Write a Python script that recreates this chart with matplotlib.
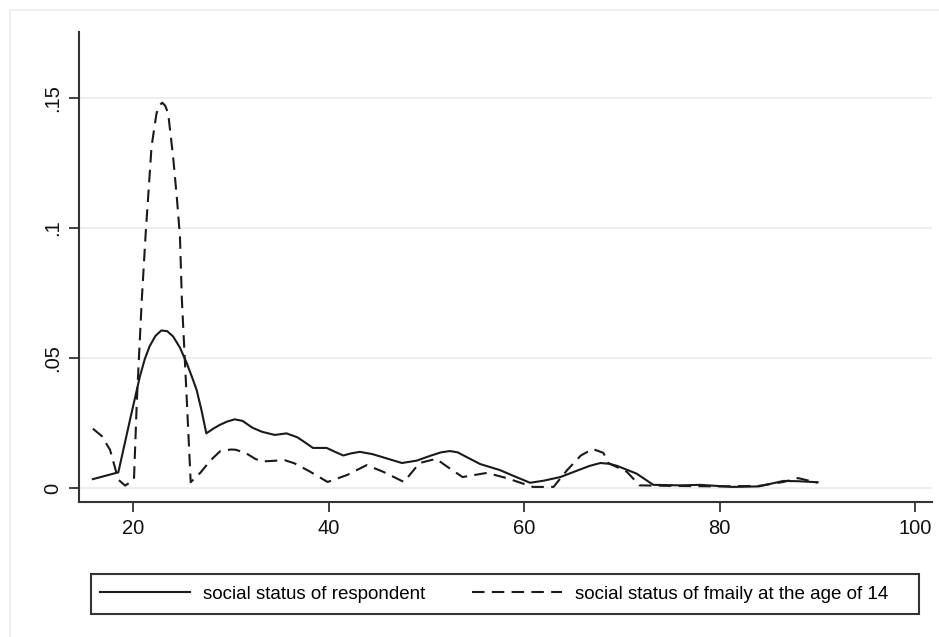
import matplotlib.pyplot as plt
from matplotlib.patches import Rectangle

# respondent's social status (solid line)
resp_x = [15.9, 18.5, 19.7, 20.7, 21.2, 21.7, 22.3, 22.9, 23.5, 24.1, 24.8, 25.5, 26.0,
          26.5, 27.0, 27.5, 28.2, 28.9, 29.6, 30.4, 31.2, 32.2, 33.2, 34.5, 35.7,
          36.8, 37.6, 38.4, 39.8, 40.6, 41.5, 42.3, 43.2, 44.5, 46.0, 47.5, 49.0,
          50.5, 51.5, 52.4, 53.2, 53.8, 55.5, 57.5, 59.0, 60.6, 62.0, 63.7, 65.5,
          66.7, 67.8, 68.7, 69.5, 71.5, 73.2, 76.0, 78.0, 81.3, 84.0, 86.5, 88.0, 90.0]
resp_y = [0.0034, 0.0060, 0.0263, 0.0428, 0.0495, 0.0545, 0.0585, 0.0606, 0.0603, 0.0583,
          0.0540, 0.0480, 0.0430, 0.0378, 0.0300, 0.0210, 0.0228, 0.0243, 0.0255, 0.0264,
          0.0258, 0.0232, 0.0216, 0.0204, 0.0210, 0.0195, 0.0175, 0.0154, 0.0154, 0.0140,
          0.0125, 0.0133, 0.0139, 0.0130, 0.0113, 0.0096, 0.0105, 0.0125, 0.0137, 0.0142,
          0.0137, 0.0125, 0.0092, 0.0069, 0.0045, 0.0020, 0.0028, 0.0042, 0.0068, 0.0085,
          0.0096, 0.0093, 0.0085, 0.0055, 0.0012, 0.0010, 0.0012, 0.0004, 0.0006, 0.0027,
          0.0026, 0.0022]

# family's social status at age 14 (dashed line)
fam_x = [15.9, 16.8, 17.65, 18.5, 19.2, 20.1, 20.4, 20.9, 21.3, 21.6, 21.9, 22.4, 22.7,
         23.0, 23.3, 23.6, 24.1, 24.5, 24.8, 25.0, 25.5, 25.9, 26.9, 27.9, 28.9, 30.0,
         30.5, 31.5, 32.5, 33.2, 34.2, 35.5, 36.5, 38.0, 39.9, 41.9, 43.9, 45.6,
         47.7, 49.3, 51.0, 52.2, 53.7, 56.2, 58.2, 60.9, 63.0, 64.4, 65.8, 67.0,
         68.1, 68.6, 70.5, 71.8, 75.0, 80.0, 84.0, 86.5, 88.0, 90.0]
fam_y = [0.0228, 0.0200, 0.0147, 0.0032, 0.0009, 0.0032, 0.0340, 0.0724, 0.0980, 0.1147,
         0.1314, 0.1440, 0.1472, 0.1482, 0.1470, 0.1440, 0.1275, 0.1110, 0.0968, 0.0724,
         0.0340, 0.0022, 0.0059, 0.0105, 0.0141, 0.0148, 0.0147, 0.0135, 0.0112, 0.0102,
         0.0104, 0.0107, 0.0095, 0.0065, 0.0023, 0.0050, 0.0088, 0.0062, 0.0023, 0.0096,
         0.0112, 0.0080, 0.0042, 0.0058, 0.0038, 0.0004, 0.0004, 0.0069, 0.0125, 0.0150,
         0.0135, 0.0096, 0.0062, 0.0010, 0.0008, 0.0006, 0.0008, 0.0023, 0.0038, 0.0020]

yticks = [0, 0.05, 0.1, 0.15]
ytick_labels = ['0', '.05', '.1', '.15']
xticks = [20, 40, 60, 80, 100]

plt.rcParams['font.family'] = ['Liberation Sans', 'DejaVu Sans']

fig = plt.figure(figsize=(9.39, 6.37), dpi=100)
fig.patch.set_facecolor('white')
# faint outer frame
fig.patches.append(Rectangle((10 / 939, -0.1), 1.2, 1 - 10 / 637 + 0.1,
                             transform=fig.transFigure, fill=False,
                             edgecolor='#ececec', linewidth=1.2))

ax = fig.add_axes([79 / 939, 1 - 502 / 637, (932 - 79) / 939, (502 - 32) / 637])
ax.plot(resp_x, resp_y, color='#1a1a1a', lw=1.5, label='social status of respondent')
ax.plot(fam_x, fam_y, color='#1a1a1a', lw=1.5, dashes=(6, 3.5),
        label='social status of fmaily at the age of 14')

ax.set_xlim(14.48, 101.7)
ax.set_ylim(-0.0054, 0.1754)
ax.set_xticks(xticks)
ax.set_yticks(yticks)
ax.set_yticklabels(ytick_labels, rotation=90, va='center')
ax.tick_params(axis='both', direction='out', length=7, width=1.3, color='#333333',
               labelsize=14.5, labelcolor='#111111')
ax.tick_params(axis='y', pad=5)
ax.tick_params(axis='x', pad=5)
for s in ['top', 'right']:
    ax.spines[s].set_visible(False)
for s in ['left', 'bottom']:
    ax.spines[s].set_color('#333333')
    ax.spines[s].set_linewidth(1.5)
ax.grid(axis='y', color='#eeeeee', lw=1.5)
ax.set_axisbelow(True)

# legend box drawn separately so its width matches
fig.patches.append(Rectangle((91 / 939, 1 - 614 / 637), (919 - 91) / 939, 40 / 637,
                             transform=fig.transFigure, fill=False,
                             edgecolor='#333333', linewidth=1.5))
handles, labels = ax.get_legend_handles_labels()
leg = fig.legend(handles, labels, loc='center left', ncol=2, frameon=False,
                 bbox_to_anchor=(100 / 939, 1 - 594 / 637),
                 fontsize=13.5, handlelength=4.8, handletextpad=0.68,
                 columnspacing=2.5, borderpad=0, borderaxespad=0)

plt.savefig('out.png', dpi=100)
